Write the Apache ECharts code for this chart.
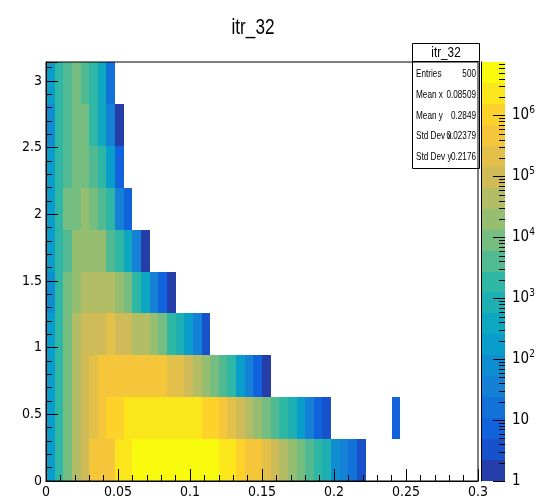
<!DOCTYPE html>
<html>
<head>
<meta charset="utf-8">
<title>itr_32</title>
<script src="https://cdn.jsdelivr.net/npm/echarts/dist/echarts.min.js"></script>
<style>
  html, body { margin: 0; padding: 0; background: #fff; }
  #chart { width: 539px; height: 497px; }
</style>
</head>
<body>
<div id="chart"></div>
<script>
// histogram binning: 50 bins in x (0 .. 0.3), 10 bins in y (0 .. pi)
const xMin = 0, xMax = 0.3, nBinsX = 50;
const yMin = 0, yMax = Math.PI, nBinsY = 10;
const binX = (xMax - xMin) / nBinsX;
const binY = (yMax - yMin) / nBinsY;

// z range of the log colour scale, 20 contours
const zMin = 1, zMax = 7.5e6, nContours = 20;

// cell contents, one list per y bin (bottom -> top), index = x bin, 0 = empty
const rowY0 = [172, 1850, 9000, 43800, 97000, 471000, 471000, 471000, 2.3e6, 2.3e6,
  5.1e6, 5.1e6, 5.1e6, 5.1e6, 5.1e6, 5.1e6, 5.1e6, 5.1e6, 5.1e6, 5.1e6,
  2.3e6, 2.3e6, 1.04e6, 471000, 471000, 213000, 97000, 43800, 19900, 9000,
  4100, 1850, 840, 78, 35, 16, 3.3];
const rowY1 = [172, 1850, 9000, 43800, 97000, 213000, 471000, 1.04e6, 1.04e6, 2.3e6,
  2.3e6, 2.3e6, 2.3e6, 2.3e6, 2.3e6, 2.3e6, 2.3e6, 2.3e6, 1.04e6, 1.04e6,
  471000, 213000, 97000, 43800, 19900, 9000, 4100, 1850, 840, 172,
  35, 7.2, 3.3, 0, 0, 0, 0, 0, 0, 0, 7];
const rowY2 = [172, 1850, 9000, 43800, 97000, 213000, 471000, 471000, 471000, 471000,
  471000, 471000, 471000, 471000, 213000, 213000, 97000, 43800, 19900, 9000,
  4100, 1850, 172, 35, 7.2, 1.5];
const rowY3 = [172, 1850, 9000, 43800, 97000, 97000, 97000, 213000, 97000, 97000,
  43800, 43800, 19900, 9000, 1850, 840, 172, 35, 3.3];
const rowY4 = [78, 1850, 9000, 19900, 43800, 43800, 43800, 43800, 19900, 9000,
  1850, 380, 35, 7.2, 1.5];
const rowY5 = [172, 1850, 4100, 19900, 19900, 19900, 19900, 4100, 1850, 380, 35, 1.5];
const rowY6 = [172, 1850, 9000, 9000, 19900, 9000, 4100, 1850, 35, 7.2];
const rowY7 = [172, 1850, 4100, 9000, 9000, 4100, 1850, 172, 7.2];
const rowY8 = [78, 1850, 4100, 9000, 9000, 1850, 380, 35, 1.5];
const rowY9 = [172, 1850, 4100, 9000, 4100, 1850, 380, 16];
const rows = [rowY0, rowY1, rowY2, rowY3, rowY4, rowY5, rowY6, rowY7, rowY8, rowY9];

// stats box
const statsTitle = 'itr_32';
const statLabels = ['Entries', 'Mean x', 'Mean y', 'Std Dev x', 'Std Dev y'];
const statValues = ['500', '0.08509', '0.2849', '0.02379', '0.2176'];

// kBird palette stops
const birdStops = [0.0, 0.125, 0.25, 0.375, 0.5, 0.625, 0.75, 0.875, 1.0];
const birdR = [0.2082, 0.0592, 0.0780, 0.0232, 0.1802, 0.5301, 0.8186, 0.9956, 0.9764];
const birdG = [0.1664, 0.3599, 0.5041, 0.6419, 0.7178, 0.7492, 0.7328, 0.7862, 0.9832];
const birdB = [0.5293, 0.8684, 0.8385, 0.7914, 0.6425, 0.4662, 0.3499, 0.1968, 0.0539];

const AXIS_FONT = '"DejaVu Sans Condensed", "Liberation Sans", sans-serif';
const TEXT_FONT = '"Liberation Sans", Arial, sans-serif';
const NARROW = 0.78; // horizontal squeeze for the helvetica-like texts

let birdColor = (t) => {
  t = Math.max(0, Math.min(1, t));
  let k = 0;
  while (k < birdStops.length - 2 && t > birdStops[k + 1]) k++;
  let f = (t - birdStops[k]) / (birdStops[k + 1] - birdStops[k]);
  let c = (arr) => Math.round(255 * (arr[k] + f * (arr[k + 1] - arr[k])));
  return 'rgb(' + c(birdR) + ',' + c(birdG) + ',' + c(birdB) + ')';
};

const logMin = Math.log10(zMin), logMax = Math.log10(zMax);

let bandOf = (v) => {
  let b = Math.floor((Math.log10(v) - logMin) / (logMax - logMin) * nContours);
  return Math.max(0, Math.min(nContours - 1, b));
};
let bandColor = (b) => birdColor((b + 0.99) / nContours);

// cell centres for the custom series
let cells = [];
rows.forEach((row, j) => {
  row.forEach((v, i) => {
    if (v > 0) cells.push([xMin + (i + 0.5) * binX, yMin + (j + 0.5) * binY, v]);
  });
});

// colour bar bands + ticks (log10 units)
let bands = [];
for (let b = 0; b < nContours; b++) bands.push([b]);
let cbTicks = [];
for (let n = 0; n <= 7; n++) {
  for (let k = 1; k <= 9; k++) {
    let lv = Math.log10(k * Math.pow(10, n));
    if (lv >= logMin && lv < logMax - 0.01) cbTicks.push([lv, k === 1 ? 1 : 0]);
  }
}

let chart = echarts.init(document.getElementById('chart'));

let options = {
  animation: false,
  backgroundColor: '#fff',
  textStyle: { fontFamily: AXIS_FONT },
  grid: [
    { left: 46, top: 62, width: 432, height: 419, show: true, borderColor: '#000', borderWidth: 1,
      backgroundColor: 'transparent', z: 5, containLabel: false, outerBoundsMode: 'none' },
    { left: 481, top: 62, width: 24, height: 419, show: false, containLabel: false, outerBoundsMode: 'none' }
  ],
  xAxis: [
    {
      gridIndex: 0, type: 'value', min: xMin, max: xMax, interval: 0.05, z: 6,
      axisLine: { show: true, onZero: false, lineStyle: { color: '#000', width: 1 } },
      axisTick: { show: true, inside: true, length: 12, lineStyle: { color: '#000' } },
      minorTick: { show: true, splitNumber: 5, length: 6, lineStyle: { color: '#000' } },
      splitLine: { show: false },
      axisLabel: { margin: 4, fontSize: 14, color: '#000', fontFamily: AXIS_FONT }
    },
    { gridIndex: 1, type: 'value', min: 0, max: 1, show: false }
  ],
  yAxis: [
    {
      gridIndex: 0, type: 'value', min: yMin, max: yMax, interval: 0.5, z: 6,
      axisLine: { show: true, onZero: false, lineStyle: { color: '#000', width: 1 } },
      axisTick: { show: true, inside: true, length: 12, lineStyle: { color: '#000' } },
      minorTick: { show: true, splitNumber: 5, length: 6, lineStyle: { color: '#000' } },
      splitLine: { show: false },
      axisLabel: {
        margin: 4, fontSize: 14, color: '#000', fontFamily: AXIS_FONT,
        formatter: (v) => Math.abs(v * 2 - Math.round(v * 2)) > 1e-6 ? '' : String(v)
      }
    },
    {
      gridIndex: 1, type: 'value', min: logMin, max: logMax, interval: 1, position: 'right', z: 6,
      axisLine: { show: true, lineStyle: { color: '#000', width: 1 } },
      axisTick: { show: false },
      splitLine: { show: false },
      axisLabel: {
        margin: 7, color: '#000', fontFamily: AXIS_FONT,
        formatter: (v) => {
          if (Math.abs(v - Math.round(v)) > 1e-6) return '';
          if (v === 0) return '{b|1}';
          if (v === 1) return '{b|10}';
          return '{b|10}{s|' + v + '}';
        },
        rich: {
          b: { fontSize: 15, lineHeight: 20, fontFamily: AXIS_FONT, color: '#000' },
          s: { fontSize: 10, lineHeight: 20, verticalAlign: 'top', fontFamily: AXIS_FONT, color: '#000' }
        }
      }
    }
  ],
  series: [
    {
      name: 'cells', type: 'custom', xAxisIndex: 0, yAxisIndex: 0,
      coordinateSystem: 'cartesian2d', encode: { x: 0, y: 1 },
      data: cells,
      renderItem: (params, api) => {
        let xc = api.value(0), yc = api.value(1), v = api.value(2);
        let p0 = api.coord([xc - binX / 2, yc - binY / 2]);
        let p1 = api.coord([xc + binX / 2, yc + binY / 2]);
        let x0 = Math.round(p0[0]), x1 = Math.round(p1[0]);
        let y0 = Math.round(p0[1]), y1 = Math.round(p1[1]);
        return {
          type: 'rect',
          shape: { x: x0, y: y1, width: x1 - x0, height: y0 - y1 },
          style: { fill: bandColor(bandOf(v)) }
        };
      }
    },
    {
      name: 'palette', type: 'custom', xAxisIndex: 1, yAxisIndex: 1,
      coordinateSystem: 'cartesian2d',
      data: bands,
      renderItem: (params, api) => {
        let b = api.value(0);
        let lo = logMin + b * (logMax - logMin) / nContours;
        let hi = logMin + (b + 1) * (logMax - logMin) / nContours;
        let p0 = api.coord([0, lo]);
        let p1 = api.coord([1, hi]);
        let y0 = Math.round(p0[1]), y1 = Math.round(p1[1]);
        return {
          type: 'rect',
          shape: { x: p0[0], y: y1, width: p1[0] - p0[0], height: y0 - y1 },
          style: { fill: bandColor(b) }
        };
      }
    },
    {
      name: 'paletteTicks', type: 'custom', xAxisIndex: 1, yAxisIndex: 1,
      coordinateSystem: 'cartesian2d', z: 4,
      data: cbTicks,
      renderItem: (params, api) => {
        let p = api.coord([1, api.value(0)]);
        let len = api.value(1) ? 12 : 6;
        let y = Math.round(p[1]) + 0.5;
        return {
          type: 'line',
          shape: { x1: p[0] - len, y1: y, x2: p[0], y2: y },
          style: { stroke: '#000', lineWidth: 1 }
        };
      }
    }
  ],
  graphic: []
};

// title
options.graphic.push({
  type: 'text', x: 253, y: 28, z: 100, scaleX: NARROW,
  style: { text: 'itr_32', align: 'center', verticalAlign: 'middle', font: '22px ' + TEXT_FONT, fill: '#000' }
});

// stats box
let box = { type: 'group', z: 100, children: [] };
box.children.push({
  type: 'rect', shape: { x: 412.5, y: 43.5, width: 67, height: 125 },
  style: { fill: '#fff', stroke: '#000', lineWidth: 1 }
});
box.children.push({
  type: 'line', shape: { x1: 412.5, y1: 61.5, x2: 479.5, y2: 61.5 },
  style: { stroke: '#000', lineWidth: 1 }
});
box.children.push({
  type: 'text', x: 446, y: 52.5, scaleX: NARROW,
  style: { text: statsTitle, align: 'center', verticalAlign: 'middle', font: '15px ' + TEXT_FONT, fill: '#000' }
});
statLabels.forEach((lab, i) => {
  let y = 74.5 + i * 20.7;
  box.children.push({
    type: 'text', x: 416, y: y, scaleX: NARROW,
    style: { text: lab, align: 'left', verticalAlign: 'middle', font: '10.5px ' + TEXT_FONT, fill: '#000' }
  });
  box.children.push({
    type: 'text', x: 476, y: y, scaleX: NARROW,
    style: { text: statValues[i], align: 'right', verticalAlign: 'middle', font: '10.5px ' + TEXT_FONT, fill: '#000' }
  });
});
options.graphic.push(box);

chart.setOption(options);
</script>
</body>
</html>
